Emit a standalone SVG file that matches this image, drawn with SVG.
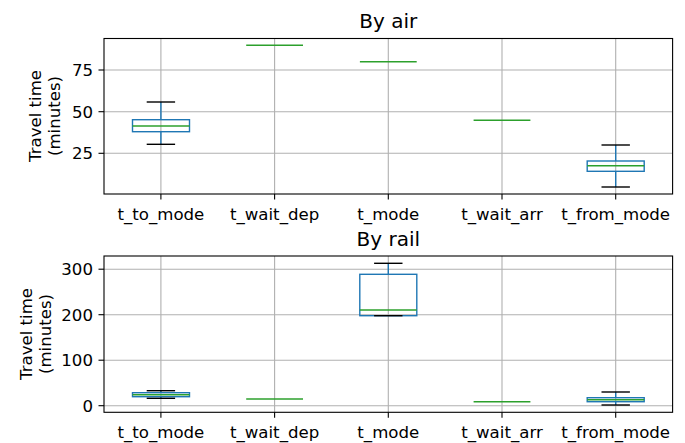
<svg xmlns="http://www.w3.org/2000/svg" width="685" height="443" viewBox="0 0 685 443">
<style>
text{font-family:"DejaVu Sans","Liberation Sans",sans-serif;fill:#000}
.tk{font-size:16.6px}
.tl{font-size:20px;text-anchor:middle}
.yl{font-size:16.6px;text-anchor:middle}
.xt{text-anchor:middle}
.yt{text-anchor:end}
.grid{stroke:#b0b0b0;stroke-width:1.1;fill:none}
.spine{stroke:#000;stroke-width:1.1;fill:none}
.tick{stroke:#000;stroke-width:1.1}
.box{stroke:#1f77b4;stroke-width:1.4;fill:none}
.wh{stroke:#1f77b4;stroke-width:1.4}
.cap{stroke:#000;stroke-width:1.4}
.med{stroke:#2ca02c;stroke-width:1.4}
</style>
<rect width="685" height="443" fill="#fff"/>

<g id="air">
  <g id="air-grid">
    <line class="grid" x1="160.9" y1="38.5" x2="160.9" y2="194"/>
    <line class="grid" x1="274.6" y1="38.5" x2="274.6" y2="194"/>
    <line class="grid" x1="388.3" y1="38.5" x2="388.3" y2="194"/>
    <line class="grid" x1="502" y1="38.5" x2="502" y2="194"/>
    <line class="grid" x1="615.7" y1="38.5" x2="615.7" y2="194"/>
    <line class="grid" x1="104" y1="70" x2="672.6" y2="70"/>
    <line class="grid" x1="104" y1="111.7" x2="672.6" y2="111.7"/>
    <line class="grid" x1="104" y1="153.3" x2="672.6" y2="153.3"/>
  </g>
  <g id="air-t_to_mode">
    <rect class="box" x="132.5" y="119.7" width="57" height="12"/>
    <line class="wh" x1="160.9" y1="119.7" x2="160.9" y2="102"/>
    <line class="wh" x1="160.9" y1="131.7" x2="160.9" y2="144.3"/>
    <line class="cap" x1="146.7" y1="102" x2="175.1" y2="102"/>
    <line class="cap" x1="146.7" y1="144.3" x2="175.1" y2="144.3"/>
    <line class="med" x1="132.5" y1="126" x2="189.5" y2="126"/>
  </g>
  <g id="air-t_wait_dep">
    <line class="med" x1="246.2" y1="45.3" x2="303" y2="45.3"/>
  </g>
  <g id="air-t_mode">
    <line class="med" x1="359.9" y1="61.7" x2="416.7" y2="61.7"/>
  </g>
  <g id="air-t_wait_arr">
    <line class="med" x1="473.6" y1="120.3" x2="530.4" y2="120.3"/>
  </g>
  <g id="air-t_from_mode">
    <rect class="box" x="587.2" y="161" width="57" height="10.3"/>
    <line class="wh" x1="615.7" y1="161" x2="615.7" y2="145"/>
    <line class="wh" x1="615.7" y1="171.3" x2="615.7" y2="187"/>
    <line class="cap" x1="601.5" y1="145" x2="629.9" y2="145"/>
    <line class="cap" x1="601.5" y1="187" x2="629.9" y2="187"/>
    <line class="med" x1="587.2" y1="165.7" x2="644.2" y2="165.7"/>
  </g>
  <g id="air-axes">
    <rect class="spine" x="104" y="38.5" width="568.6" height="155.5"/>
    <line class="tick" x1="98.5" y1="70" x2="104" y2="70"/>
    <line class="tick" x1="98.5" y1="111.7" x2="104" y2="111.7"/>
    <line class="tick" x1="98.5" y1="153.3" x2="104" y2="153.3"/>
    <line class="tick" x1="160.9" y1="194" x2="160.9" y2="199.5"/>
    <line class="tick" x1="274.6" y1="194" x2="274.6" y2="199.5"/>
    <line class="tick" x1="388.3" y1="194" x2="388.3" y2="199.5"/>
    <line class="tick" x1="502" y1="194" x2="502" y2="199.5"/>
    <line class="tick" x1="615.7" y1="194" x2="615.7" y2="199.5"/>
    <text class="tk yt" x="93" y="76">75</text>
    <text class="tk yt" x="93" y="117.7">50</text>
    <text class="tk yt" x="93" y="159.3">25</text>
    <text class="tk xt" x="160.9" y="220">t_to_mode</text>
    <text class="tk xt" x="274.6" y="220">t_wait_dep</text>
    <text class="tk xt" x="388.3" y="220">t_mode</text>
    <text class="tk xt" x="502" y="220">t_wait_arr</text>
    <text class="tk xt" x="615.7" y="220">t_from_mode</text>
    <text class="tl" x="388.3" y="28.3">By air</text>
    <text class="yl" transform="translate(41,116) rotate(-90)">Travel time</text>
    <text class="yl" transform="translate(60,116) rotate(-90)">(minutes)</text>
  </g>
</g>

<g id="rail">
  <g id="rail-grid">
    <line class="grid" x1="160.9" y1="256" x2="160.9" y2="412.3"/>
    <line class="grid" x1="274.6" y1="256" x2="274.6" y2="412.3"/>
    <line class="grid" x1="388.3" y1="256" x2="388.3" y2="412.3"/>
    <line class="grid" x1="502" y1="256" x2="502" y2="412.3"/>
    <line class="grid" x1="615.7" y1="256" x2="615.7" y2="412.3"/>
    <line class="grid" x1="104" y1="269.2" x2="672.6" y2="269.2"/>
    <line class="grid" x1="104" y1="314.7" x2="672.6" y2="314.7"/>
    <line class="grid" x1="104" y1="360.2" x2="672.6" y2="360.2"/>
    <line class="grid" x1="104" y1="405.7" x2="672.6" y2="405.7"/>
  </g>
  <g id="rail-t_to_mode">
    <rect class="box" x="132.5" y="392.7" width="57" height="4"/>
    <line class="wh" x1="160.9" y1="392.7" x2="160.9" y2="390.7"/>
    <line class="wh" x1="160.9" y1="396.7" x2="160.9" y2="398.3"/>
    <line class="cap" x1="146.7" y1="390.7" x2="175.1" y2="390.7"/>
    <line class="cap" x1="146.7" y1="398.3" x2="175.1" y2="398.3"/>
    <line class="med" x1="132.5" y1="394.7" x2="189.5" y2="394.7"/>
  </g>
  <g id="rail-t_wait_dep">
    <line class="med" x1="246.2" y1="399" x2="303" y2="399"/>
  </g>
  <g id="rail-t_mode">
    <rect class="box" x="359.8" y="274.3" width="57" height="41.4"/>
    <line class="wh" x1="388.3" y1="274.3" x2="388.3" y2="263.3"/>
    <line class="cap" x1="374.1" y1="263.3" x2="402.5" y2="263.3"/>
    <line class="cap" x1="374.1" y1="315.7" x2="402.5" y2="315.7"/>
    <line class="med" x1="359.8" y1="310" x2="416.8" y2="310"/>
  </g>
  <g id="rail-t_wait_arr">
    <line class="med" x1="473.6" y1="401.7" x2="530.4" y2="401.7"/>
  </g>
  <g id="rail-t_from_mode">
    <rect class="box" x="587.2" y="397.7" width="57" height="4"/>
    <line class="wh" x1="615.7" y1="397.7" x2="615.7" y2="392"/>
    <line class="wh" x1="615.7" y1="401.7" x2="615.7" y2="405"/>
    <line class="cap" x1="601.5" y1="392" x2="629.9" y2="392"/>
    <line class="cap" x1="601.5" y1="405" x2="629.9" y2="405"/>
    <line class="med" x1="587.2" y1="399.7" x2="644.2" y2="399.7"/>
  </g>
  <g id="rail-axes">
    <rect class="spine" x="104" y="256" width="568.6" height="156.3"/>
    <line class="tick" x1="98.5" y1="269.2" x2="104" y2="269.2"/>
    <line class="tick" x1="98.5" y1="314.7" x2="104" y2="314.7"/>
    <line class="tick" x1="98.5" y1="360.2" x2="104" y2="360.2"/>
    <line class="tick" x1="98.5" y1="405.7" x2="104" y2="405.7"/>
    <line class="tick" x1="160.9" y1="412.3" x2="160.9" y2="417.8"/>
    <line class="tick" x1="274.6" y1="412.3" x2="274.6" y2="417.8"/>
    <line class="tick" x1="388.3" y1="412.3" x2="388.3" y2="417.8"/>
    <line class="tick" x1="502" y1="412.3" x2="502" y2="417.8"/>
    <line class="tick" x1="615.7" y1="412.3" x2="615.7" y2="417.8"/>
    <text class="tk yt" x="93" y="275.2">300</text>
    <text class="tk yt" x="93" y="320.7">200</text>
    <text class="tk yt" x="93" y="366.2">100</text>
    <text class="tk yt" x="93" y="411.7">0</text>
    <text class="tk xt" x="160.9" y="438.3">t_to_mode</text>
    <text class="tk xt" x="274.6" y="438.3">t_wait_dep</text>
    <text class="tk xt" x="388.3" y="438.3">t_mode</text>
    <text class="tk xt" x="502" y="438.3">t_wait_arr</text>
    <text class="tk xt" x="615.7" y="438.3">t_from_mode</text>
    <text class="tl" x="388.3" y="246">By rail</text>
    <text class="yl" transform="translate(32,334) rotate(-90)">Travel time</text>
    <text class="yl" transform="translate(51,334) rotate(-90)">(minutes)</text>
  </g>
</g>
</svg>
